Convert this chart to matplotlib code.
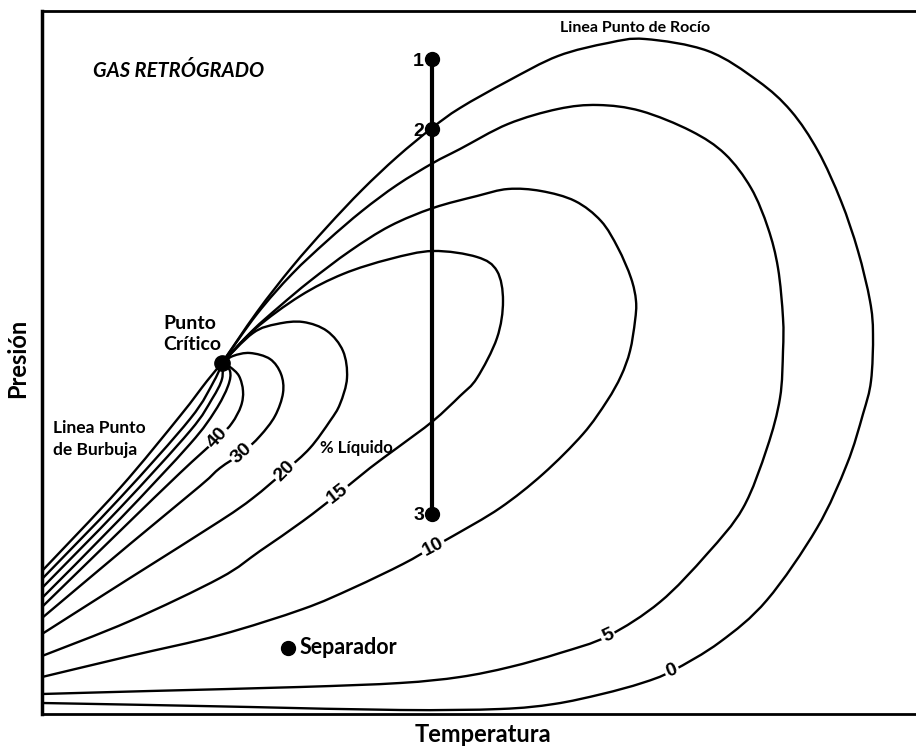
import matplotlib
matplotlib.use("Agg")
import numpy as np
import matplotlib.pyplot as plt
from matplotlib.path import Path
from matplotlib.patches import PathPatch

# Quality lines (% liquid) of a retrograde gas phase envelope, arbitrary T / P units
T_0 = [0, 108, 208, 358, 458, 512, 560, 600, 630, 678, 725, 775, 805, 821, 829, 831, 828, 816,
       799, 776, 749, 716, 666, 603, 566, 516, 466, 418, 390, 355, 320, 285, 250, 215, 180]
P_0 = [11, 9, 7, 4, 5, 10, 20, 31, 43, 72, 114, 186, 250, 300, 333, 380, 413, 463,
       513, 563, 603, 633, 663, 675, 671, 658, 633, 606, 586, 557, 524, 487, 447, 402, 351]

T_5 = [0, 108, 258, 358, 418, 468, 518, 566, 618, 665, 701, 725, 738, 741, 741, 736, 726, 709,
       683, 649, 599, 556, 516, 466, 418, 391, 355, 320, 285, 250, 215, 180]
P_5 = [20, 23, 27, 31, 37, 47, 61, 78, 112, 160, 206, 266, 316, 363, 396, 446, 486, 526,
       560, 583, 603, 609, 605, 590, 565, 551, 529, 503, 473, 440, 400, 351]

T_10 = [0, 88, 178, 261, 311, 361, 391, 411, 458, 501, 541, 565, 579, 588, 593, 594,
        589, 576, 559, 533, 499, 466, 435, 391, 348, 308, 268, 238, 210, 180]
P_10 = [37, 58, 79, 105, 126, 150, 167, 178, 206, 240, 280, 313, 338, 363, 393, 413,
        436, 466, 493, 513, 523, 525, 518, 506, 488, 463, 433, 408, 383, 351]

T_15 = [0, 88, 178, 218, 261, 296, 328, 355, 391, 418, 435, 455, 461, 455, 435, 391, 348,
        301, 258, 213, 180]
P_15 = [58, 93, 136, 163, 193, 220, 246, 266, 293, 318, 336, 376, 413, 443, 457, 463, 455,
        440, 418, 385, 351]

T_20 = [0, 88, 178, 211, 243, 268, 288, 298, 305, 301, 285, 261, 235, 211, 180]
P_20 = [80, 136, 193, 216, 243, 266, 293, 310, 336, 363, 383, 392, 390, 381, 351]

T_30 = [0, 88, 158, 178, 200, 218, 233, 241, 239, 228, 208, 191, 180]
P_30 = [96, 170, 228, 246, 261, 278, 298, 321, 340, 355, 361, 358, 351]

T_40 = [0, 78, 138, 176, 190, 199, 201, 197, 188, 180]
P_40 = [107, 183, 241, 276, 291, 308, 323, 338, 347, 351]

T_50 = [0, 78, 148, 173, 186, 188, 180]
P_50 = [116, 195, 270, 303, 328, 343, 351]

T_60 = [0, 78, 148, 170, 180, 180]
P_60 = [126, 206, 283, 315, 335, 351]

T_70 = [0, 78, 148, 172, 180]
P_70 = [135, 216, 295, 333, 351]

T_100 = [0, 78, 138, 165, 180]
P_100 = [143, 226, 298, 333, 351]

curves = [(T_0, P_0), (T_5, P_5), (T_10, P_10), (T_15, P_15), (T_20, P_20), (T_30, P_30),
          (T_40, P_40), (T_50, P_50), (T_60, P_60), (T_70, P_70), (T_100, P_100)]

# labels written on the lines
line_labels = ["0", "5", "10", "15", "20", "30", "40"]
label_T = [630, 566, 391, 296, 243, 200, 176]
label_P = [43, 78, 167, 220, 243, 261, 276]
label_rot = [22, 25, 28, 38, 45, 42, 48]

# points
crit_T, crit_P = 180, 351
path_T = 390
path_P = [655, 585, 200]
path_names = ["1", "2", "3"]
sep_T, sep_P = 246, 66

LABEL_FONT = ["Lato", "DejaVu Sans"]
NUM_FONT = ["Liberation Sans", "DejaVu Sans"]


def smooth_path(T, P):
    # Catmull-Rom through the read points, handed to matplotlib as cubic Bezier segments
    pts = np.column_stack([T, P]).astype(float)
    ext = np.vstack([pts[0], pts, pts[-1]])
    verts = [pts[0]]
    codes = [Path.MOVETO]
    for i in range(1, len(ext) - 2):
        p0, p1, p2, p3 = ext[i - 1], ext[i], ext[i + 1], ext[i + 2]
        verts += [p1 + (p2 - p0) / 6, p2 - (p3 - p1) / 6, p2]
        codes += [Path.CURVE4] * 3
    return Path(verts, codes)


fig = plt.figure(figsize=(9.16, 7.51), dpi=100)
ax = fig.add_axes([42 / 916, 37 / 751, 880 / 916, 703 / 751])
ax.set_xlim(0, 880)
ax.set_ylim(0, 703)
ax.set_xticks([])
ax.set_yticks([])
ax.spines["right"].set_visible(False)
ax.spines["left"].set_linewidth(2.5)
ax.spines["top"].set_linewidth(2)
ax.spines["bottom"].set_linewidth(2)

for T, P in curves:
    ax.add_patch(PathPatch(smooth_path(T, P), fc="none", ec="black", lw=1.7,
                           joinstyle="round", capstyle="round"))

for txt, t, p, r in zip(line_labels, label_T, label_P, label_rot):
    ax.text(t, p, txt, family=NUM_FONT, fontsize=14, fontweight="bold", rotation=r,
            ha="center", va="center", rotation_mode="anchor", zorder=3,
            bbox=dict(boxstyle="square,pad=0.1", fc="white", ec="none"))

# vertical isothermal path 1-2-3
ax.plot([path_T] * len(path_P), path_P, color="black", lw=3, zorder=4)
ax.plot([path_T] * len(path_P), path_P, "o", color="black", ms=10, zorder=4)
for name, p in zip(path_names, path_P):
    ax.text(path_T - 8, p - 2, name, family=NUM_FONT, fontsize=14, fontweight="bold",
            ha="right", va="center")

ax.plot(crit_T, crit_P, "o", color="black", ms=11, zorder=4)
ax.plot(sep_T, sep_P, "o", color="black", ms=10, zorder=4)

ax.text(51, 643, "GAS RETRÓGRADO", family=LABEL_FONT, fontsize=14.5, fontweight="bold",
        style="italic", ha="left", va="center")
ax.text(593, 686, "Linea Punto de Rocío", family=LABEL_FONT, fontsize=11.5,
        fontweight="bold", ha="center", va="center")
ax.text(121, 380, "Punto\nCrítico", family=LABEL_FONT, fontsize=14, fontweight="bold",
        ha="left", va="center", linespacing=1.3)
ax.text(11, 275, "Linea Punto\nde Burbuja", family=LABEL_FONT, fontsize=12.5,
        fontweight="bold", ha="left", va="center", linespacing=1.4)
ax.text(278, 266, "% Líquido", family=LABEL_FONT, fontsize=12, fontweight="bold",
        ha="left", va="center")
ax.text(258, 66, "Separador", family=LABEL_FONT, fontsize=15.5, fontweight="bold",
        ha="left", va="center")

fig.text(483 / 916, 1 - 735 / 751, "Temperatura", family=LABEL_FONT, fontsize=17,
         fontweight="bold", ha="center", va="center")
fig.text(18 / 916, 1 - 358 / 751, "Presión", family=LABEL_FONT, fontsize=17,
         fontweight="bold", ha="center", va="center", rotation=90)

fig.savefig("out.png", dpi=100)
plt.close(fig)
